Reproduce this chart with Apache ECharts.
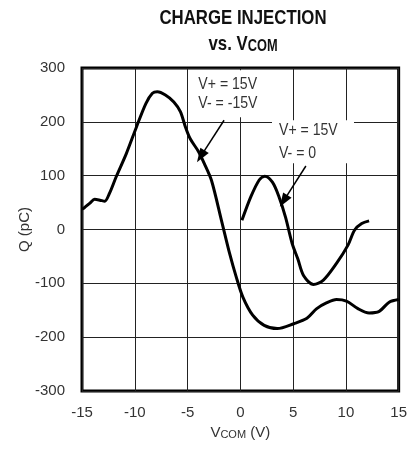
<!DOCTYPE html>
<html><head><meta charset="utf-8">
<script src="https://cdn.jsdelivr.net/npm/echarts@6/dist/echarts.min.js"></script>
<style>html,body{margin:0;padding:0;background:#fff}#c{width:410px;height:453px}</style>
</head><body><div id="c"></div>
<script>
// V+ = 15V, V- = -15V
const xDual = [-15,-14.8,-14.25,-13.8,-13.3,-12.85,-12.4,-11.76,-10.8,-9.83,-8.95,-8.33,-7.87,-7.1,-6.3,-5.68,-5.21,-4.76,-3.97,-3.4,-2.73,-1.79,-1.01,-0.39,0.23,1.17,2.26,3.5,5.07,6.31,7.24,8.2,9.11,10.05,11.14,12.2,13.16,14.1,15];
const qDual = [38,40,49,56,54.5,52.6,67,98,141,191,234,253,256,250,237,219,191,169,145,122,91,17,-45,-88,-125,-159,-178,-184,-175,-165,-147,-136,-130,-133,-147,-155,-152,-135,-130];
// V+ = 15V, V- = 0
const xSingle = [0.15,1.0,1.79,2.32,3.04,3.66,4.28,4.91,5.45,6.0,6.93,7.87,9.11,10.2,10.83,11.5,12.2];
const qSingle = [17,61,92,99,88,61,23,-26,-55,-86,-102,-94,-63,-29,-1,11,16];
const xTicks = [-15,-10,-5,0,5,10,15];
const yTicks = [-300,-200,-100,0,100,200,300];
const arrow1 = [[-1.54,203],[-3.75,136]];
const arrow2 = [[6.21,118],[4.1,53]];

const FONT = "'Liberation Sans Narrow','Arial Narrow','Liberation Sans',Arial,sans-serif";
const chart = echarts.init(document.getElementById('c'));
const pairs = (xs, ys) => xs.map((x,i)=>[x, ys[i]]);
const arrowLine = (a) => [{coord:a[0]},{coord:a[1]}];
const mk = (a) => ({silent:true,symbol:['none','triangle'],symbolSize:[10,14],
  label:{show:false},lineStyle:{color:'#000',width:1.5,type:'solid'},data:[arrowLine(a)]});

chart.setOption({
  animation:false,
  grid:{left:82,right:7,top:68,bottom:62,show:true,borderColor:'#000',borderWidth:3,backgroundColor:'transparent'},
  xAxis:{type:'value',min:-15,max:15,interval:5,
    axisLine:{show:false},axisTick:{show:false},
    splitLine:{show:true,lineStyle:{color:'#222',width:1}},
    axisLabel:{margin:14,fontFamily:FONT,fontSize:15,color:'#333',
      formatter:v=>xTicks.includes(v)?String(v):''},
    name:'{v|V}{s|COM}{v| (V)}',nameLocation:'middle',nameGap:34,
    nameTextStyle:{rich:{
      v:{fontFamily:FONT,fontSize:15,color:'#333'},
      s:{fontFamily:FONT,fontSize:11,color:'#333',padding:[4,0,0,0]}
    }}
  },
  yAxis:{type:'value',min:-300,max:300,interval:100,
    axisLine:{show:false},axisTick:{show:false},
    splitLine:{show:true,lineStyle:{color:'#222',width:1}},
    axisLabel:{margin:17,fontFamily:FONT,fontSize:15,color:'#333',
      formatter:v=>yTicks.includes(v)?String(v):''},
    name:'Q (pC)',nameLocation:'middle',nameGap:50,nameRotate:90,nameMoveOverlap:false,
    nameTextStyle:{fontFamily:FONT,fontSize:15,color:'#333'}
  },
  series:[
    {type:'line',data:pairs(xDual,qDual),smooth:0.3,showSymbol:false,symbol:'none',
      lineStyle:{color:'#000',width:3},z:3,markLine:mk(arrow1)},
    {type:'line',data:pairs(xSingle,qSingle),smooth:0.3,showSymbol:false,symbol:'none',
      lineStyle:{color:'#000',width:3},z:3,markLine:mk(arrow2)}
  ]
});

function box(anchor, w, h, lines, gap, padL){
  const p = chart.convertToPixel({gridIndex:0}, anchor);
  return {type:'group',x:p[0],y:p[1],z:1,children:[
    {type:'rect',shape:{x:0,y:0,width:w,height:h},style:{fill:'#fff'},z:1},
    {type:'text',x:padL,y:h/2,z:2,scaleX:0.88,style:{text:lines.join('\n'),fontFamily:FONT,fontSize:16,fill:'#333',
      lineHeight:gap,verticalAlign:'middle',align:'left'}}
  ]};
}
chart.setOption({graphic:[
  {type:'text',x:243,y:5,z:5,scaleX:0.8,style:{
    text:'{t|CHARGE INJECTION}\n{t|vs. V}{s|COM}',align:'center',verticalAlign:'top',
    rich:{
      t:{fontFamily:FONT,fontWeight:'bold',fontSize:21,fill:'#111',lineHeight:26,align:'center'},
      s:{fontFamily:FONT,fontWeight:'bold',fontSize:16,fill:'#111',lineHeight:26,padding:[6,0,0,0]}
    }}},
  box([-4.45,296],70,47,['V+ = 15V','V- = -15V'],19,5),
  box([3.0,203],82,43,['V+ = 15V','V- = 0'],23,7)
]});
</script></body></html>
